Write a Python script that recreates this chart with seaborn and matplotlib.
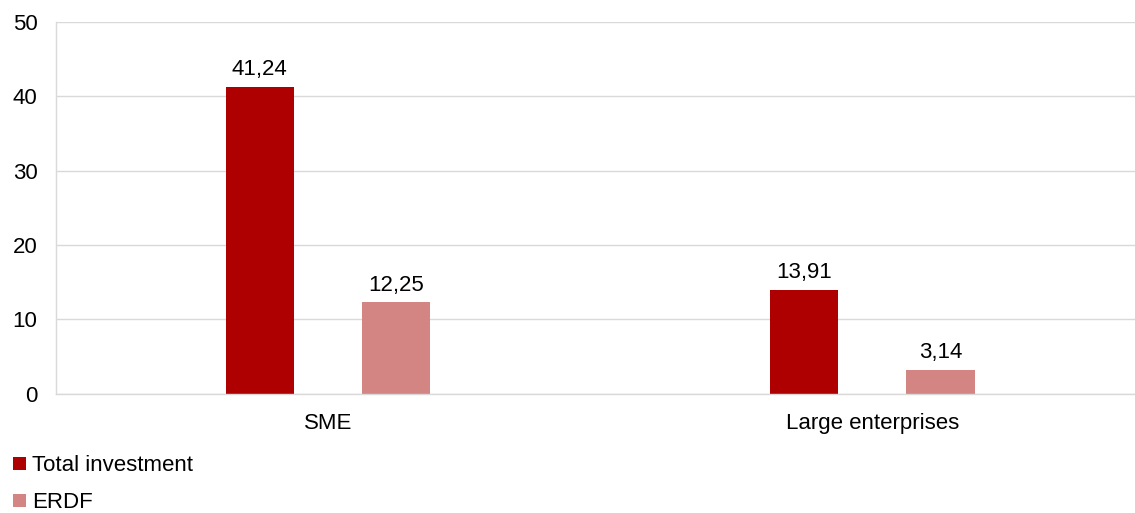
import matplotlib
matplotlib.use("Agg")
import matplotlib.pyplot as plt
from matplotlib.patches import Patch
import pandas as pd
import seaborn as sns

categories = ["SME", "Large enterprises"]
series_names = ["Total investment", "ERDF"]
total_investment = [41.24, 13.91]
erdf = [12.25, 3.14]
y_ticks = [0, 10, 20, 30, 40, 50]

colors = ["#AE0000", "#D38584"]

df = pd.DataFrame({
    "category": categories * 2,
    "series": [series_names[0]] * len(categories) + [series_names[1]] * len(categories),
    "value": total_investment + erdf,
})

sns.set_theme(style="white")
plt.rcParams["font.family"] = ["Liberation Sans", "DejaVu Sans"]
plt.rcParams["text.color"] = "#000000"

FS = 16

fig = plt.figure(figsize=(11.35, 5.13), dpi=100)
ax = fig.add_axes([55.5 / 1135, 1 - 393.5 / 513, 1089.2 / 1135, 371.5 / 513])

sns.barplot(data=df, x="category", y="value", hue="series",
            hue_order=series_names, palette=colors, width=0.5, gap=0.5,
            saturation=1, ax=ax, legend=False, linewidth=0)

for container in ax.containers:
    labels = [f"{v:.2f}".replace(".", ",") for v in container.datavalues]
    ax.bar_label(container, labels=labels, padding=5, fontsize=FS, color="#000000")

ax.set_xlim(-0.5, 1.5)
ax.set_ylim(0, 50)
ax.set_yticks(y_ticks)
ax.set_xlabel("")
ax.set_ylabel("")
ax.grid(axis="y", color="#d9d9d9", linewidth=1)
ax.set_axisbelow(True)
for side in ["top", "right"]:
    ax.spines[side].set_visible(False)
for side in ["left", "bottom"]:
    ax.spines[side].set_color("#d9d9d9")
    ax.spines[side].set_linewidth(1)
ax.tick_params(axis="both", length=0, labelsize=FS, colors="#000000")
ax.tick_params(axis="y", pad=13)
ax.tick_params(axis="x", pad=14)

handles = [Patch(facecolor=c, edgecolor="none", label=n) for c, n in zip(colors, series_names)]
fig.legend(handles=handles, loc="lower left", bbox_to_anchor=(0.004, -0.018),
           frameon=False, fontsize=FS, handlelength=0.55, handleheight=0.55,
           handletextpad=0.3, labelspacing=0.72, borderaxespad=0,
           labelcolor="#000000")

fig.savefig("out.png", dpi=100)
